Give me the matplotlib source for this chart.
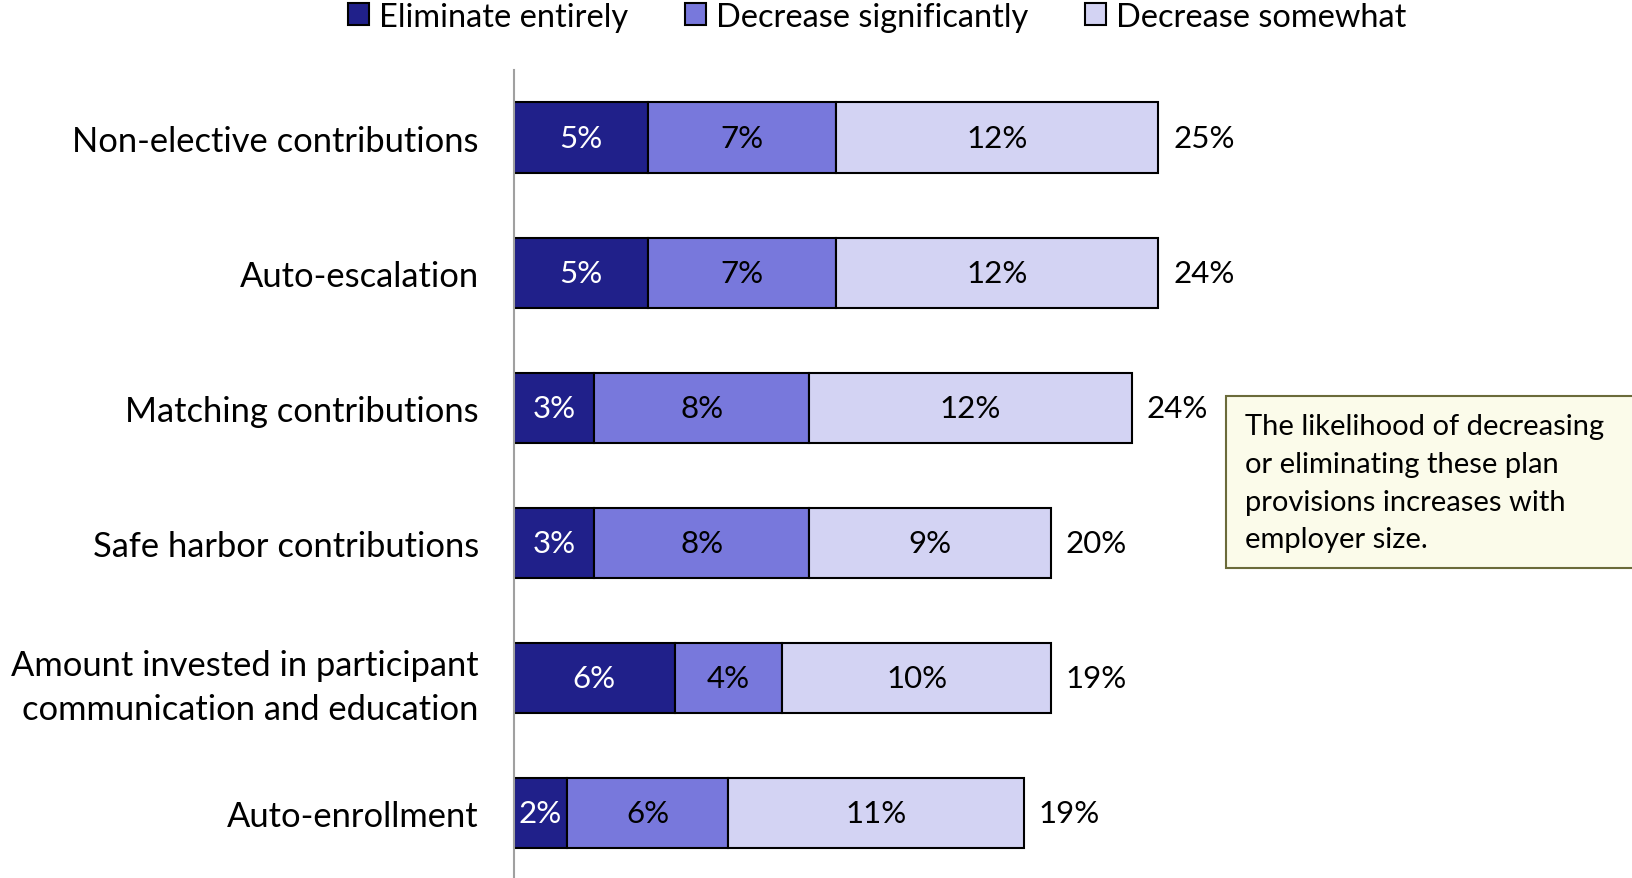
import numpy as np
import matplotlib.pyplot as plt
from matplotlib.patches import Rectangle

plt.rcParams['font.family'] = ['Lato', 'DejaVu Sans']

# data
categories = ["Non-elective contributions", "Auto-escalation", "Matching contributions",
              "Safe harbor contributions",
              "Amount invested in participant\ncommunication and education", "Auto-enrollment"]
eliminate = [5, 5, 3, 3, 6, 2]
decrease_sig = [7, 7, 8, 8, 4, 6]
decrease_some = [12, 12, 12, 9, 10, 11]
totals = [25, 24, 24, 20, 19, 19]
series_names = ["Eliminate entirely", "Decrease significantly", "Decrease somewhat"]
colors = ["#20208A", "#7878DC", "#D3D3F3"]
text_colors = ["white", "black", "black"]

fig = plt.figure(figsize=(16.33, 8.79), dpi=100)
ax = fig.add_axes([513.5 / 1633, 0, 1 - 513.5 / 1633, 1 - 71 / 879])

y = np.arange(len(categories))
left = np.zeros(len(categories))
for vals, name, col, tc in zip([eliminate, decrease_sig, decrease_some], series_names, colors, text_colors):
    vals = np.array(vals)
    ax.barh(y, vals, left=left, height=0.52, color=col, edgecolor="black", linewidth=1.5, label=name)
    for yi, l, v in zip(y, left, vals):
        ax.text(l + v / 2, yi, f"{v}%", ha="center", va="center", fontsize=22.5, color=tc)
    left = left + vals

for yi, l, t in zip(y, left, totals):
    ax.text(l + 0.55, yi, f"{t}%", ha="left", va="center", fontsize=22.5)

ax.set_yticks(y)
ax.set_yticklabels(categories, fontsize=24.8, linespacing=1.47)
ax.tick_params(axis="y", length=0, pad=25)
ax.set_xticks([])
ax.set_xlim(0, (1633 - 513.5) / 26.87)
ax.set_ylim(5.48, -0.5)
for s in ["top", "right", "bottom"]:
    ax.spines[s].set_visible(False)
ax.spines["left"].set_color("#A0A0A0")
ax.spines["left"].set_linewidth(1.5)

fig.legend(loc="center", bbox_to_anchor=(0.537, 0.98), ncol=3, frameon=False, fontsize=23.4,
           handlelength=0.65, handleheight=0.65, handletextpad=0.3, columnspacing=1.75)

# note box
fig.patches.append(Rectangle((1226 / 1633, 1 - 569 / 879), 420 / 1633, 172 / 879,
                             transform=fig.transFigure, facecolor="#FBFBEA", edgecolor="#6B6B3A",
                             linewidth=1.5, zorder=0))
fig.text(1245 / 1633, 1 - 414 / 879,
         "The likelihood of decreasing\nor eliminating these plan\nprovisions increases with\nemployer size.",
         ha="left", va="top", fontsize=21, linespacing=1.56)

fig.savefig("out.png", dpi=100)
